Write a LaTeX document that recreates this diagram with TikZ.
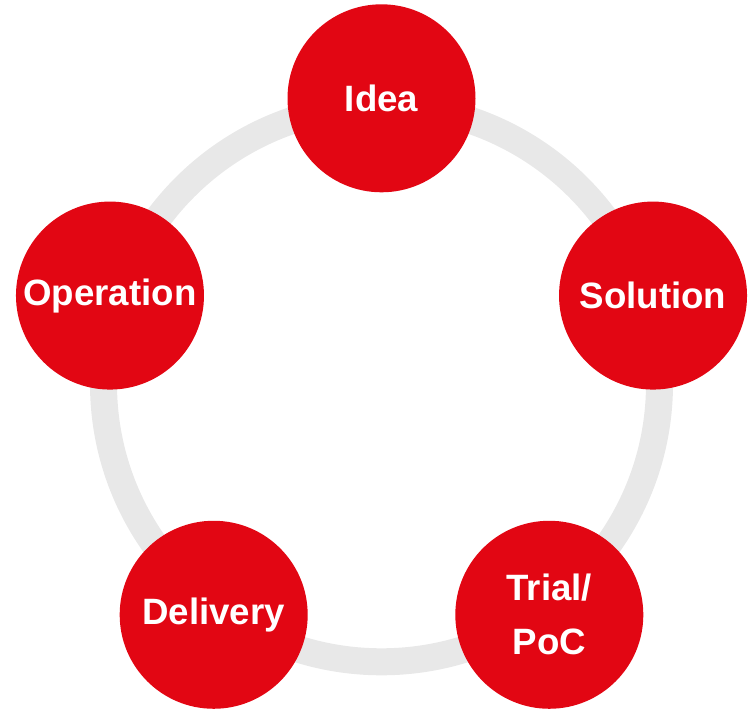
\documentclass[tikz,border=0pt]{standalone}
\usepackage{fontspec}
\setmainfont{Liberation Sans}
\usepackage{tikz}
\usetikzlibrary{calc}
\definecolor{cyclered}{RGB}{226, 6, 19}
\definecolor{ringgray}{RGB}{232, 232, 232}
\tikzset{
  stage/.style={circle, fill=cyclered, minimum size=141pt, inner sep=0pt,
    text=white, align=center, font=\bfseries\fontsize{27.5pt}{40.5pt}\selectfont},
  ringline/.style={draw=ringgray, line width=20.25pt}
}

\begin{document}
\begin{tikzpicture}[x=0.75pt, y=0.75pt]
  \useasboundingbox (0,0) rectangle (750,708);
  \coordinate (ctr) at (381.5,324.2);

  % Ring
  \draw[ringline] (ctr) circle [radius=208.5pt];

  % Stages
  \node[stage] (idea)      at ($(ctr)+(90:285.5)$)  {Idea};
  \node[stage] (solution)  at ($(ctr)+(18:285.5)$)  {Solution};
  \node[stage] (trial)     at ($(ctr)+(-54:285.5)$) {Trial/\\PoC};
  \node[stage] (delivery)  at ($(ctr)+(234:285.5)$) {Delivery};
  \node[stage] (operation) at ($(ctr)+(162:285.5)$) {Operation};
\end{tikzpicture}
\end{document}
